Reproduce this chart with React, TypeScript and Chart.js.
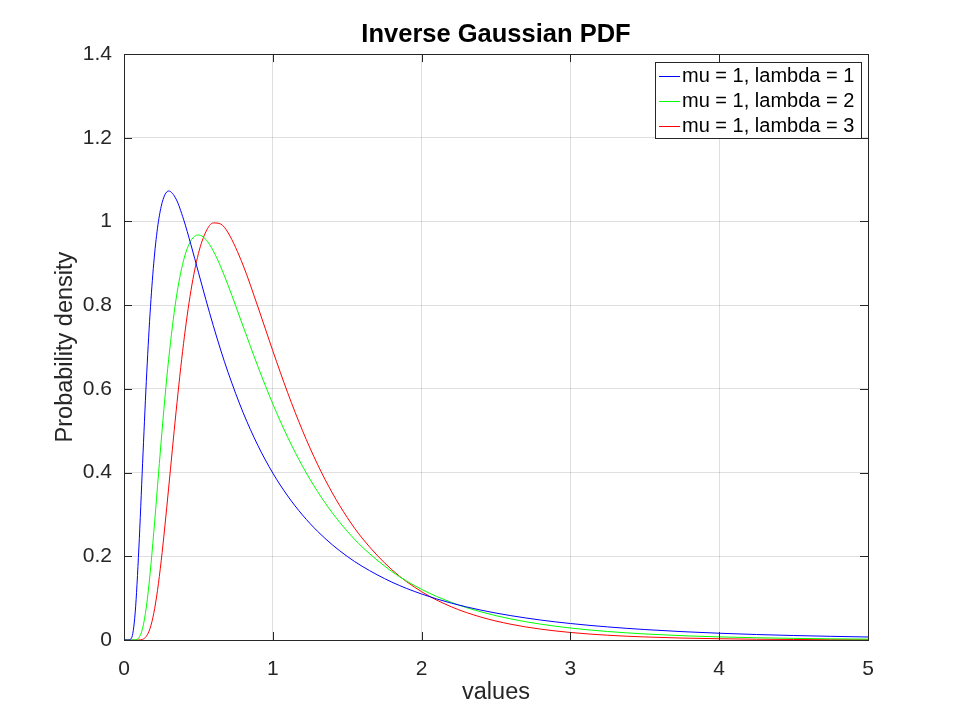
import { useEffect, useRef } from 'react';
import Chart from 'chart.js/auto';

// values (mu = 1, lambda = 1, 2, 3)
const X_VALUES = [
    0, 0.025, 0.05, 0.075, 0.1, 0.125, 0.15, 0.175, 0.2, 0.225, 0.25, 0.275, 0.3, 0.35, 0.4, 0.45,
    0.5, 0.55, 0.6, 0.65, 0.7, 0.8, 0.9, 1.0, 1.1, 1.2, 1.3, 1.4, 1.5, 1.6, 1.8, 2.0, 2.2, 2.4,
    2.6, 2.8, 3.0, 3.25, 3.5, 3.75, 4.0, 4.25, 4.5, 4.75, 5.0,
];
const PDF_LAMBDA_1 = [
    0, 0, 0.0043, 0.0647, 0.2198, 0.4222, 0.6178, 0.7795, 0.9005, 0.9839, 1.0361, 1.0639, 1.0729, 1.0536, 1.0055, 0.9443,
    0.8788, 0.8136, 0.7512, 0.6928, 0.6388, 0.5438, 0.4647, 0.3989, 0.3442, 0.2985, 0.26, 0.2275, 0.1998, 0.1762, 0.1383, 0.1099, 0.0881, 0.0713,
    0.0582, 0.0477, 0.0394, 0.0313, 0.025, 0.02, 0.0162, 0.0131, 0.0107, 0.0088, 0.0072,
];
const PDF_LAMBDA_2 = [
    0, 0, 0, 0.0003, 0.0054, 0.0279, 0.0786, 0.1577, 0.2571, 0.3663, 0.4757, 0.5786, 0.6705, 0.8148, 0.9067, 0.9542,
    0.9679, 0.9572, 0.9298, 0.8917, 0.8471, 0.75, 0.6535, 0.5642, 0.4846, 0.4151, 0.3552, 0.3038, 0.26, 0.2226, 0.1637, 0.121, 0.0899, 0.0671,
    0.0503, 0.0379, 0.0286, 0.0203, 0.0145, 0.0103, 0.0074, 0.0054, 0.0039, 0.0028, 0.0021,
];
const PDF_LAMBDA_3 = [
    0, 0, 0, 0, 0.0001, 0.0016, 0.0087, 0.0276, 0.0636, 0.1181, 0.1892, 0.2725, 0.3629, 0.5457, 0.7081, 0.8351,
    0.9232, 0.9752, 0.9966, 0.9939, 0.9729, 0.8959, 0.7959, 0.691, 0.5908, 0.5, 0.4202, 0.3514, 0.2929, 0.2436, 0.1679, 0.1154, 0.0793, 0.0546,
    0.0376, 0.026, 0.018, 0.0114, 0.0073, 0.0046, 0.003, 0.0019, 0.0012, 0.0008, 0.0005,
];
const SERIES_LABELS = ['mu = 1, lambda = 1', 'mu = 1, lambda = 2', 'mu = 1, lambda = 3'];
const SERIES_COLORS = ['#0000ff', '#00ff00', '#ff0000'];
const X_TICKS = [0, 1, 2, 3, 4, 5];
const X_TICK_LABELS = ['0', '1', '2', '3', '4', '5'];
const Y_TICKS = [0, 0.2, 0.4, 0.6, 0.8, 1, 1.2, 1.4];
const Y_TICK_LABELS = ['0', '0.2', '0.4', '0.6', '0.8', '1', '1.2', '1.4'];

const FONT = "'Liberation Sans', Arial, Helvetica, sans-serif";
const AXIS_COLOR = '#262626';
const GRID_COLOR = 'rgba(38, 38, 38, 0.15)';
const TICK_LEN = 8;

// octave style box with inward ticks on all four sides
const boxPlugin = {
    id: 'octaveBox',
    afterDatasetsDraw(chart: any) {
        const { ctx, chartArea, scales } = chart;
        const { left, right, top, bottom } = chartArea;
        ctx.save();
        ctx.strokeStyle = AXIS_COLOR;
        ctx.lineWidth = 1;
        ctx.beginPath();
        X_TICKS.forEach(v => {
            const px = Math.round(scales.x.getPixelForValue(v)) + 0.5;
            ctx.moveTo(px, bottom);
            ctx.lineTo(px, bottom - TICK_LEN);
            ctx.moveTo(px, top);
            ctx.lineTo(px, top + TICK_LEN);
        });
        Y_TICKS.forEach(v => {
            const py = Math.round(scales.y.getPixelForValue(v)) + 0.5;
            ctx.moveTo(left, py);
            ctx.lineTo(left + TICK_LEN, py);
            ctx.moveTo(right, py);
            ctx.lineTo(right - TICK_LEN, py);
        });
        ctx.stroke();
        ctx.strokeRect(Math.round(left) + 0.5, Math.round(top) + 0.5, Math.round(right - left), Math.round(bottom - top));
        ctx.restore();
    },
};

// legend box in the top right corner of the axes
const legendPlugin = {
    id: 'octaveLegend',
    afterDraw(chart: any) {
        const { ctx, chartArea } = chart;
        const datasets = chart.data.datasets;
        ctx.save();
        ctx.font = `20px ${FONT}`;
        const textWidth = Math.max(...datasets.map((d: any) => ctx.measureText(d.label).width));
        const rowH = 25;
        const w = Math.round(4 + 20 + 3 + textWidth + 7);
        const h = rowH * datasets.length + 1;
        const x0 = Math.round(chartArea.right - 7 - w);
        const y0 = Math.round(chartArea.top + 8);
        ctx.fillStyle = '#ffffff';
        ctx.fillRect(x0, y0, w, h);
        ctx.strokeStyle = AXIS_COLOR;
        ctx.lineWidth = 1;
        ctx.strokeRect(x0 + 0.5, y0 + 0.5, w, h);
        ctx.textBaseline = 'middle';
        ctx.textAlign = 'left';
        datasets.forEach((d: any, i: number) => {
            const cy = y0 + 14 + i * rowH;
            ctx.fillStyle = d.borderColor;
            ctx.fillRect(x0 + 4, cy, 21, 1);
            ctx.fillStyle = '#000000';
            ctx.fillText(d.label, x0 + 27, cy + 0.5);
        });
        ctx.restore();
    },
};

export default function App() {
    const canvasRef = useRef<HTMLCanvasElement | null>(null);
    const chartInstance = useRef<Chart | null>(null);

    useEffect(() => {
        if (!canvasRef.current) return;
        const ctx = canvasRef.current.getContext('2d');
        if (!ctx) return;
        if (chartInstance.current) chartInstance.current.destroy();

        const series = [PDF_LAMBDA_1, PDF_LAMBDA_2, PDF_LAMBDA_3];

        chartInstance.current = new Chart(ctx, {
            type: 'line',
            data: {
                datasets: series.map((values, i) => ({
                    label: SERIES_LABELS[i],
                    data: values.map((y, j) => ({ x: X_VALUES[j], y })),
                    borderColor: SERIES_COLORS[i],
                    backgroundColor: SERIES_COLORS[i],
                    borderWidth: 1,
                    pointRadius: 0,
                    cubicInterpolationMode: 'monotone' as const,
                    fill: false,
                })),
            },
            options: {
                responsive: true,
                maintainAspectRatio: false,
                animation: false,
                events: [],
                layout: { padding: { left: 0, right: 92, top: 0, bottom: 0 } },
                plugins: {
                    legend: { display: false },
                    tooltip: { enabled: false },
                    title: {
                        display: true,
                        text: 'Inverse Gaussian PDF',
                        fullSize: false,
                        color: '#000000',
                        font: { family: FONT, size: 25.5, weight: 'bold' },
                        padding: { top: 19.5, bottom: 4 },
                    },
                },
                scales: {
                    x: {
                        type: 'linear',
                        min: 0,
                        max: 5,
                        afterBuildTicks: (scale: any) => {
                            scale.ticks = X_TICKS.map(v => ({ value: v }));
                        },
                        afterFit: (scale: any) => {
                            scale.height = 80;
                        },
                        ticks: {
                            color: AXIS_COLOR,
                            font: { family: FONT, size: 21 },
                            padding: 17,
                            maxRotation: 0,
                            callback: (_v: any, i: number) => X_TICK_LABELS[i],
                        },
                        grid: { color: GRID_COLOR, drawTicks: false },
                        border: { display: false },
                        title: {
                            display: true,
                            text: 'values',
                            color: AXIS_COLOR,
                            font: { family: FONT, size: 23.5 },
                            padding: { top: 0, bottom: 13 },
                        },
                    },
                    y: {
                        type: 'linear',
                        min: 0,
                        max: 1.4,
                        afterBuildTicks: (scale: any) => {
                            scale.ticks = Y_TICKS.map(v => ({ value: v }));
                        },
                        afterFit: (scale: any) => {
                            scale.width = 124;
                        },
                        ticks: {
                            color: AXIS_COLOR,
                            font: { family: FONT, size: 21 },
                            padding: 12,
                            callback: (_v: any, i: number) => Y_TICK_LABELS[i],
                        },
                        grid: { color: GRID_COLOR, drawTicks: false },
                        border: { display: false },
                        title: {
                            display: true,
                            text: 'Probability density',
                            color: AXIS_COLOR,
                            font: { family: FONT, size: 23.5 },
                            padding: { top: 51, bottom: 0 },
                        },
                    },
                },
            },
            plugins: [boxPlugin, legendPlugin],
        });

        return () => {
            if (chartInstance.current) {
                chartInstance.current.destroy();
                chartInstance.current = null;
            }
        };
    }, []);

    return (
        <div style={{ position: 'absolute', left: 0, top: 0, width: 960, height: 720, background: '#ffffff' }}>
            <canvas ref={canvasRef}></canvas>
        </div>
    );
}
